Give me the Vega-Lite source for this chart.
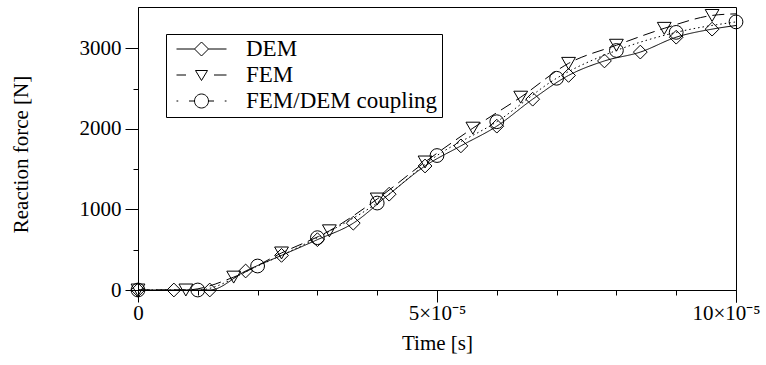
{
  "$schema": "https://vega.github.io/schema/vega-lite/v6.json",
  "autosize": {"type": "none"},
  "width": 598,
  "height": 283,
  "padding": {"left": 138, "top": 7, "right": 30, "bottom": 75},
  "config": {
    "font": "Liberation Serif",
    "style": {
      "guide-label": {"font": "Liberation Serif"},
      "guide-title": {"font": "Liberation Serif"}
    },
    "view": {"stroke": "black", "strokeWidth": 1},
    "axis": {
      "grid": false,
      "domainColor": "black",
      "domainWidth": 1,
      "tickColor": "black",
      "tickWidth": 1,
      "labelColor": "black",
      "labelFont": "Liberation Serif",
      "labelFontSize": 21,
      "titleColor": "black",
      "titleFont": "Liberation Serif",
      "titleFontSize": 21,
      "titleFontWeight": "normal"
    },
    "legend": {
      "padding": 4,
      "rowPadding": 3,
      "clipHeight": 22,
      "symbolSize": 2500,
      "symbolOffset": 6,
      "symbolOpacity": 1,
      "symbolStrokeColor": "black",
      "symbolFillColor": "transparent",
      "symbolStrokeWidth": 1,
      "labelFont": "Liberation Serif",
      "labelFontSize": 23,
      "labelLimit": 400,
      "labelColor": "black",
      "labelOffset": 19,
      "strokeColor": "black",
      "fillColor": "white"
    }
  },
  "data": {
    "values": [
      {"series": "DEM", "time": 0, "force": 0},
      {"series": "DEM", "time": 6e-6, "force": 0},
      {"series": "DEM", "time": 1.2e-5, "force": 0},
      {"series": "DEM", "time": 1.8e-5, "force": 236},
      {"series": "DEM", "time": 2.4e-5, "force": 430},
      {"series": "DEM", "time": 3.0e-5, "force": 625},
      {"series": "DEM", "time": 3.6e-5, "force": 830},
      {"series": "DEM", "time": 4.2e-5, "force": 1190},
      {"series": "DEM", "time": 4.8e-5, "force": 1540},
      {"series": "DEM", "time": 5.4e-5, "force": 1790},
      {"series": "DEM", "time": 6.0e-5, "force": 2035},
      {"series": "DEM", "time": 6.6e-5, "force": 2370},
      {"series": "DEM", "time": 7.2e-5, "force": 2665},
      {"series": "DEM", "time": 7.8e-5, "force": 2845},
      {"series": "DEM", "time": 8.4e-5, "force": 2955},
      {"series": "DEM", "time": 9.0e-5, "force": 3140},
      {"series": "DEM", "time": 9.6e-5, "force": 3240},
      {"series": "DEM", "time": 1.0e-4, "force": 3285},
      {"series": "FEM", "time": 0, "force": 0},
      {"series": "FEM", "time": 8e-6, "force": 0},
      {"series": "FEM", "time": 1.6e-5, "force": 160},
      {"series": "FEM", "time": 2.4e-5, "force": 460},
      {"series": "FEM", "time": 3.2e-5, "force": 735},
      {"series": "FEM", "time": 4.0e-5, "force": 1130},
      {"series": "FEM", "time": 4.8e-5, "force": 1590},
      {"series": "FEM", "time": 5.6e-5, "force": 2010},
      {"series": "FEM", "time": 6.4e-5, "force": 2395},
      {"series": "FEM", "time": 7.2e-5, "force": 2815},
      {"series": "FEM", "time": 8.0e-5, "force": 3040},
      {"series": "FEM", "time": 8.8e-5, "force": 3250},
      {"series": "FEM", "time": 9.6e-5, "force": 3410},
      {"series": "FEM", "time": 1.0e-4, "force": 3430},
      {"series": "FEM/DEM coupling", "time": 0, "force": 0},
      {"series": "FEM/DEM coupling", "time": 1.0e-5, "force": 0},
      {"series": "FEM/DEM coupling", "time": 2.0e-5, "force": 298},
      {"series": "FEM/DEM coupling", "time": 3.0e-5, "force": 650},
      {"series": "FEM/DEM coupling", "time": 4.0e-5, "force": 1080},
      {"series": "FEM/DEM coupling", "time": 5.0e-5, "force": 1670},
      {"series": "FEM/DEM coupling", "time": 6.0e-5, "force": 2090},
      {"series": "FEM/DEM coupling", "time": 7.0e-5, "force": 2630},
      {"series": "FEM/DEM coupling", "time": 8.0e-5, "force": 2975},
      {"series": "FEM/DEM coupling", "time": 9.0e-5, "force": 3200},
      {"series": "FEM/DEM coupling", "time": 1.0e-4, "force": 3330}
    ]
  },
  "layer": [
    {
      "mark": {"type": "line", "interpolate": "monotone", "color": "black", "strokeWidth": 1},
      "encoding": {
        "x": {
          "field": "time", "type": "quantitative",
          "scale": {"domain": [0, 0.0001], "nice": false, "zero": false},
          "axis": {
            "orient": "bottom",
            "title": "Time [s]",
            "values": [0, 0.00005, 0.0001],
            "tickSize": 12,
            "labelPadding": 0,
            "labelFlush": false,
            "labelFont": "Liberation Serif",
            "labelExpr": "datum.value == 0 ? '0' : (datum.value < 0.00006 ? '5×10⁻⁵' : '')",
            "titleX": 299,
            "titleY": 53,
            "titleAlign": "center",
            "titleBaseline": "middle"
          }
        },
        "y": {
          "field": "force", "type": "quantitative",
          "scale": {"domain": [0, 3515], "nice": false, "zero": false},
          "axis": {
            "orient": "left",
            "title": "Reaction force [N]",
            "values": [0, 1000, 2000, 3000],
            "format": "d",
            "tickSize": 13,
            "labelPadding": 4,
            "labelFont": "Liberation Serif",
            "titleAngle": -90,
            "titleX": -117,
            "titleY": 147,
            "titleAlign": "center",
            "titleBaseline": "middle"
          }
        },
        "detail": {"field": "series"},
        "strokeDash": {
          "condition": [
            {"test": "datum.series == 'FEM'", "value": [12, 6]},
            {"test": "datum.series == 'FEM/DEM coupling'", "value": [1.5, 3]}
          ],
          "value": [1, 0]
        }
      }
    },
    {
      "transform": [{"filter": "datum.time < 0.0000999 || datum.series == 'FEM/DEM coupling'"}],
      "mark": {"type": "point", "filled": false, "color": "black", "strokeWidth": 1, "size": 190, "opacity": 1},
      "encoding": {
        "x": {
          "field": "time", "type": "quantitative",
          "axis": {
            "orient": "bottom",
            "title": null,
            "values": [0.00001, 0.00002, 0.00003, 0.00004, 0.00006, 0.00007, 0.00008, 0.00009],
            "tickSize": 5,
            "labels": false,
            "domain": false
          }
        },
        "y": {
          "field": "force", "type": "quantitative",
          "axis": {
            "orient": "left",
            "title": null,
            "values": [500, 1500, 2500],
            "tickSize": 5,
            "labels": false,
            "domain": false
          }
        },
        "shape": {
          "condition": [
            {"test": "datum.series == 'DEM'", "value": "diamond"},
            {"test": "datum.series == 'FEM'", "value": "triangle-down"}
          ],
          "value": "circle"
        }
      }
    },
    {
      "mark": {"type": "point", "filled": false, "color": "black", "strokeWidth": 1, "size": 0, "opacity": 1},
      "encoding": {
        "x": {
          "field": "time", "type": "quantitative",
          "axis": {
            "orient": "bottom",
            "title": null,
            "values": [0.0001],
            "tickSize": 12,
            "labelPadding": 0,
            "labelFlush": false,
            "labelOffset": -10,
            "labelFont": "Liberation Serif",
            "labelExpr": "'10×10⁻⁵'",
            "domain": false
          }
        },
        "y": {"field": "force", "type": "quantitative", "axis": null},
        "shape": {
          "field": "series", "type": "nominal",
          "scale": {
            "domain": ["DEM", "FEM", "FEM/DEM coupling"],
            "range": [
              "M-1,0L-0.28,0M-0.28,0L0,-0.28L0.28,0L0,0.28ZM0.28,0L1,0",
              "M-1,0L-0.62,0M0.5,0L1,0M-0.24,-0.18L0.24,-0.18L0,0.22Z",
              "M-1,0L-0.93,0M-0.5,0L-0.28,0M0.28,0L0.5,0M0.93,0L1,0M0.28,0A0.28,0.28 0 1,1 -0.28,0A0.28,0.28 0 1,1 0.28,0Z"
            ]
          },
          "legend": {
            "title": null,
            "orient": "none",
            "legendX": 28,
            "legendY": 27
          }
        }
      }
    }
  ],
  "resolve": {"axis": {"x": "independent", "y": "independent"}}
}
